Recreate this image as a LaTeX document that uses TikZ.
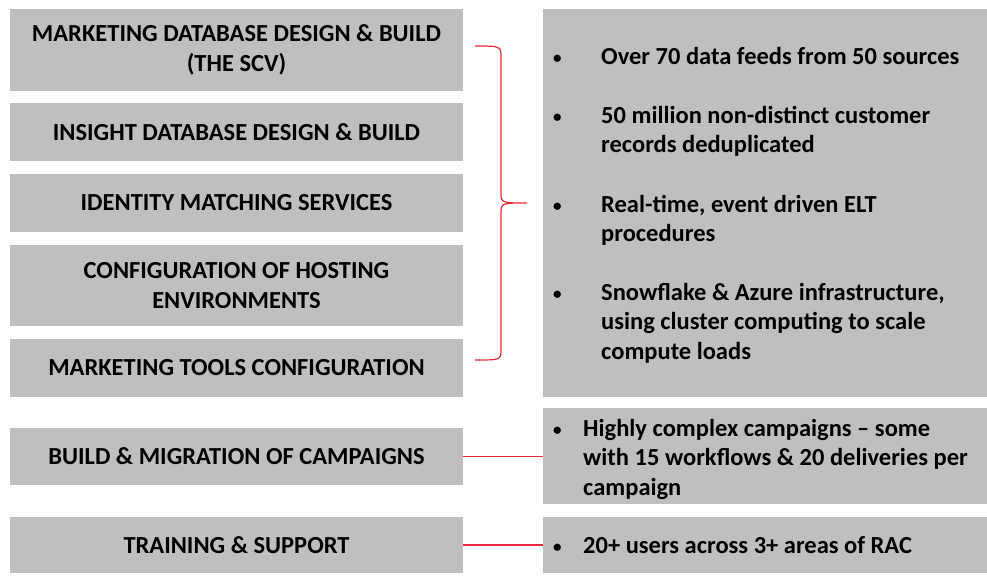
\documentclass[tikz,border=0pt]{standalone}
\usepackage{fontspec}
\setmainfont{Carlito}
\begin{document}
\begin{tikzpicture}[x=1pt,y=-1pt,
  panel/.style={fill=panelgray, inner sep=0pt, font=\fontsize{24.5}{29.5}\selectfont\bfseries, align=center, text=black},
  backdrop/.style={fill=panelgray, inner sep=0pt, minimum width=444},
  bullet/.style={anchor=base west, inner sep=0pt, font=\fontsize{24.5}{29.5}\selectfont\bfseries, align=left},
  dot/.style={anchor=base west, inner sep=0pt, font=\fontsize{17}{20}\selectfont\bfseries},
  link/.style={draw=linkred, line width=1.2pt}]
\definecolor{panelgray}{RGB}{191,191,191}
\definecolor{linkred}{RGB}{232,40,60}
\useasboundingbox (0,0) rectangle (987,582);

% left column: work streams
\node[panel, minimum width=453, minimum height=82] (mdb) at (236.5,50) {MARKETING DATABASE DESIGN \& BUILD\\(THE SCV)};
\node[panel, minimum width=453, minimum height=58] (idb) at (236.5,132) {INSIGHT DATABASE DESIGN \& BUILD};
\node[panel, minimum width=453, minimum height=58] (ims) at (236.5,203) {IDENTITY MATCHING SERVICES};
\node[panel, minimum width=453, minimum height=81] (che) at (236.5,285.5) {CONFIGURATION OF HOSTING\\ENVIRONMENTS};
\node[panel, minimum width=453, minimum height=58] (mtc) at (236.5,368) {MARKETING TOOLS CONFIGURATION};
\node[panel, minimum width=453, minimum height=57] (bmc) at (236.5,456.5) {BUILD \& MIGRATION OF CAMPAIGNS};
\node[panel, minimum width=453, minimum height=56] (trs) at (236.5,545) {TRAINING \& SUPPORT};

% right column: outcomes
\node[backdrop, minimum height=388] (big) at (765,203) {};
\node[backdrop, minimum height=96] (cmp) at (765,456) {};
\node[backdrop, minimum height=56] (usr) at (765,545) {};

% bullet points (multi-line items are placed by the baseline of their last line)
\node[dot] (d1) at (553,63) {\textbullet};
\node[bullet] (t1) at (601,64) {Over 70 data feeds from 50 sources};
\node[dot] (d2) at (553,122) {\textbullet};
\node[bullet] (t2) at (601,152.5) {50 million non-distinct customer\\records deduplicated};
\node[dot] (d3) at (553,211) {\textbullet};
\node[bullet] (t3) at (601,241.5) {Real-time, event driven ELT\\procedures};
\node[dot] (d4) at (553,299) {\textbullet};
\node[bullet] (t4) at (601,359) {Snowflake \& Azure infrastructure,\\using cluster computing to scale\\compute loads};
\node[dot] (d5) at (553,435) {\textbullet};
\node[bullet] (t5) at (583,495) {Highly complex campaigns -- some\\with 15 workflows \& 20 deliveries per\\campaign};
\node[dot] (d6) at (553,552) {\textbullet};
\node[bullet] (t6) at (583,553) {20+ users across 3+ areas of RAC};

% brace grouping the first five streams
\coordinate (bt) at (475,46);
\coordinate (bm) at (527,203);
\coordinate (bb) at (475,360);
\draw[link] (bt) .. controls (501,46) .. (501,58) -- (501,192)
  .. controls (501,203) .. (bm)
  .. controls (501,203) .. (501,214) -- (501,349)
  .. controls (501,360) .. (bb);

% connectors
\draw[link] (bmc.east) -- (cmp.west |- bmc.east);
\draw[link] (trs.east) -- (usr.west |- trs.east);
\end{tikzpicture}
\end{document}
